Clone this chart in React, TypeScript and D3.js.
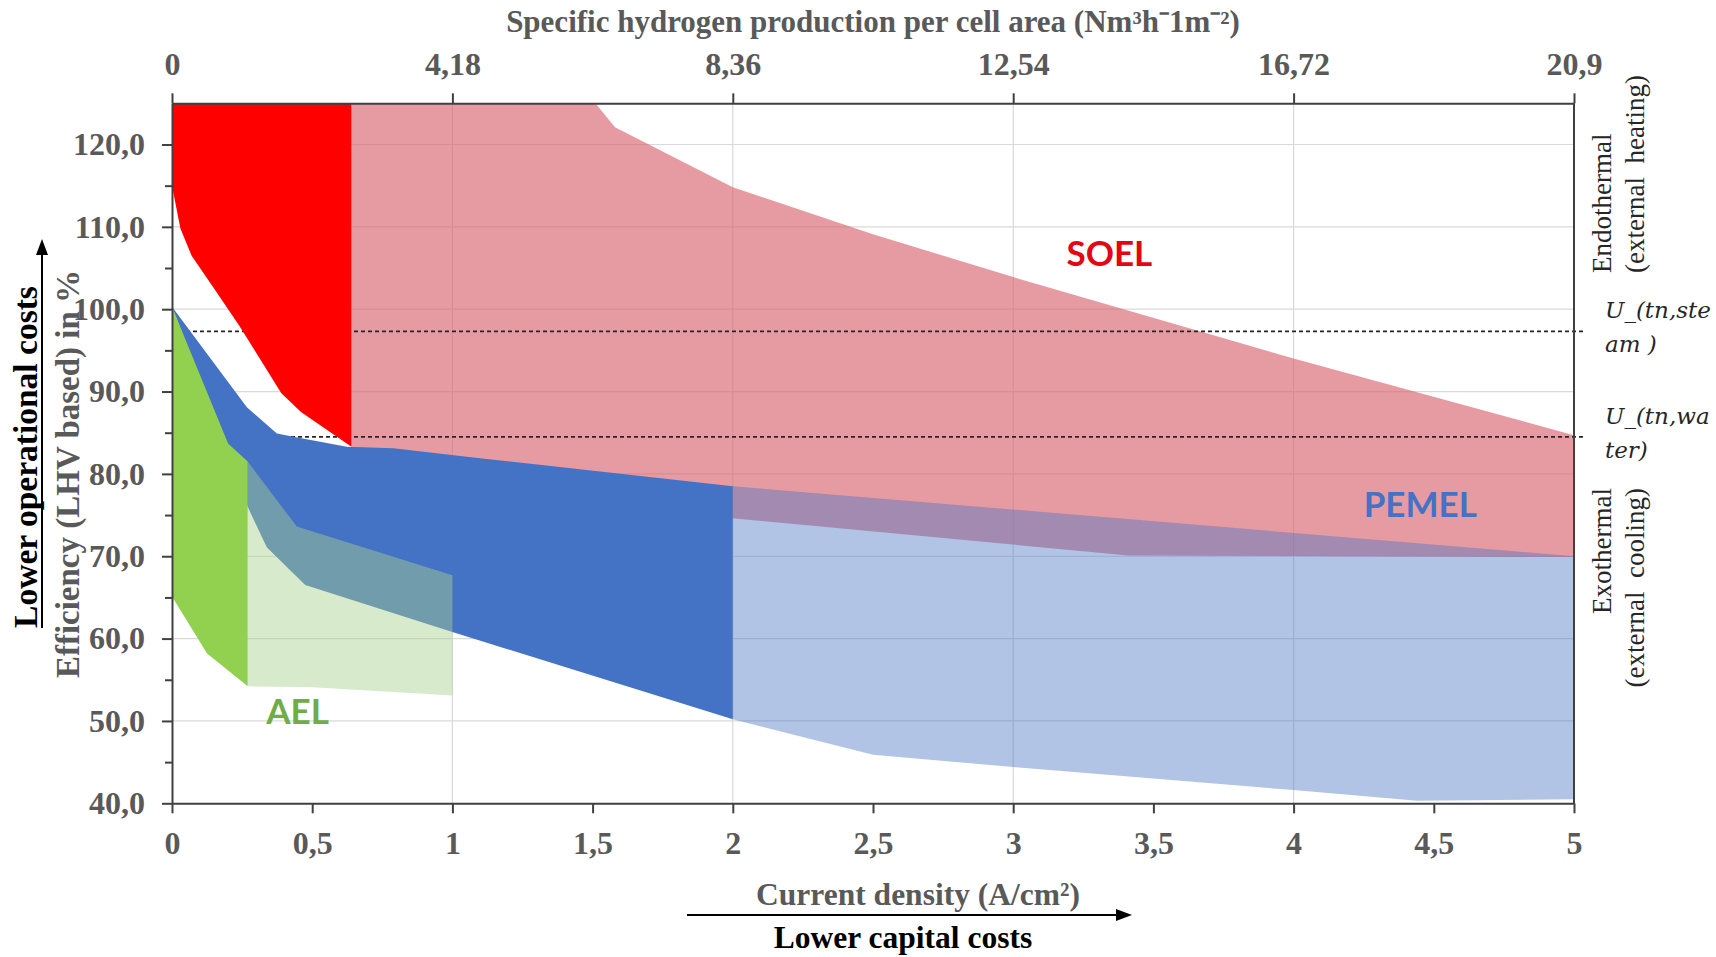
import React, { useEffect, useRef } from 'react';
import * as d3 from 'd3';

const WIDTH = 1716;
const HEIGHT = 957;

// axes
const densityTicks = [0, 0.5, 1, 1.5, 2, 2.5, 3, 3.5, 4, 4.5, 5];
const productionTicks = [0, 4.18, 8.36, 12.54, 16.72, 20.9];
const efficiencyTicks = [40, 50, 60, 70, 80, 90, 100, 110, 120];
const efficiencyMinorTicks = [45, 55, 65, 75, 85, 95, 105, 115];
const gridDensity = [1, 2, 3, 4];

// operating windows, points are [current density A/cm², efficiency %]
const soelNowTop = [[0, 125], [0.64, 125]];
const soelNowBottom = [[0, 115], [0.03, 109.8], [0.07, 106.5], [0.15, 102.5], [0.24, 98], [0.39, 89.8], [0.46, 87.5], [0.64, 83.3]];
const soelFutureTop = [[0.64, 125], [1.51, 125], [1.58, 122.1], [2, 114.8], [2.5, 109.1], [3, 103.9], [4, 94], [5, 84.7]];
const soelFutureBottom = [[0.64, 83.3], [2, 74.6], [3.41, 70.1], [5, 69.9]];
const pemelNowTop = [[0, 100.3], [0.267, 88.1], [0.374, 84.9], [0.433, 84.5], [0.623, 83.3], [0.789, 83.1], [1.098, 81.9], [2, 78.5]];
const pemelNowBottom = [[0, 100.3], [0.27, 76], [0.338, 71.1], [0.475, 66.5], [1, 60.8], [2, 50.2]];
const pemelFutureTop = [[2, 78.5], [5, 70]];
const pemelFutureBottom = [[2, 50.2], [2.5, 45.9], [3, 44.4], [4, 41.6], [4.44, 40.3], [5, 40.5]];
const aelNowTop = [[0, 100.3], [0.2, 83.7], [0.27, 81.5]];
const aelNowBottom = [[0, 65.1], [0.125, 58.2], [0.27, 54.2]];
const aelFutureTop = [[0.27, 81.5], [0.445, 73.6], [1, 67.7]];
const aelFutureBottom = [[0.27, 54.2], [0.5, 54.1], [1, 53.1]];

// thermoneutral voltage lines
const thermoNeutral = [97.3, 84.5];
const thermoNeutralLabels = [['U_(tn,ste', 'am )'], ['U_(tn,wa', 'ter)']];

const technologyNames = ['SOEL', 'PEMEL', 'AEL'];
const technologyColors = ['#E30613', '#4472C4', '#70AD47'];
const technologyLabelAt = [[3.19, 105.3], [4.25, 74.8], [0.336, 49.6]];

const SERIF = '"Liberation Serif", "Times New Roman", serif';
const GREY = '#595959';

export default function App() {
  const ref = useRef<SVGSVGElement>(null);

  useEffect(() => {
    const svg = d3.select(ref.current);
    svg.selectAll('*').remove();

    const x = d3.scaleLinear().domain([0, 5]).range([172, 1574]);
    const y = d3.scaleLinear().domain([40, 125]).range([803.3, 103.3]);
    const xTop = d3.scaleLinear().domain([0, 20.9]).range(x.range());

    // gridlines
    const grid = svg.append('g').attr('stroke', '#D9D9D9').attr('stroke-width', 1.2);
    grid.selectAll('line.h')
      .data(efficiencyTicks.filter(v => v > 40))
      .join('line')
      .attr('x1', x(0)).attr('x2', x(5))
      .attr('y1', d => y(d)).attr('y2', d => y(d));
    grid.selectAll('line.v')
      .data(gridDensity)
      .join('line')
      .attr('x1', d => x(d)).attr('x2', d => x(d))
      .attr('y1', y(40)).attr('y2', y(125));

    const outline = d3.line<number[]>().x(d => x(d[0])).y(d => y(d[1]));
    const region = (top: number[][], bottom: number[][], fill: string, opacity = 1) => {
      svg.append('path')
        .attr('d', outline(top.concat(bottom.slice().reverse())) + 'Z')
        .attr('fill', fill)
        .attr('fill-opacity', opacity);
    };

    region(soelFutureTop, soelFutureBottom, '#D96572', 0.65);

    // dashed thermoneutral lines
    svg.append('g').selectAll('line')
      .data(thermoNeutral)
      .join('line')
      .attr('x1', x(0)).attr('x2', x(5) + 12)
      .attr('y1', d => y(d)).attr('y2', d => y(d))
      .attr('stroke', '#262626')
      .attr('stroke-width', 1.7)
      .attr('stroke-dasharray', '4 3');

    region(soelNowTop, soelNowBottom, '#FF0000');
    region(pemelNowTop, pemelNowBottom, '#4472C4');
    region(pemelFutureTop, pemelFutureBottom, '#4472C4', 0.42);
    region(aelNowTop, aelNowBottom, '#92D050');
    region(aelFutureTop, aelFutureBottom, '#A9D18E', 0.45);

    // axes
    const comma = (d: d3.NumberValue) => String(d).replace('.', ',');
    const styleAxis = (g: d3.Selection<SVGGElement, unknown, null, undefined>) => {
      g.select('.domain').attr('stroke', '#404040').attr('stroke-width', 2);
      g.selectAll('.tick line').attr('stroke', '#404040').attr('stroke-width', 2);
      g.selectAll('.tick text')
        .attr('fill', GREY)
        .style('font-family', SERIF)
        .style('font-weight', 'bold')
        .style('font-size', '32px');
    };

    const bottom = svg.append('g')
      .attr('transform', `translate(0,${y(40)})`)
      .call(d3.axisBottom(x).tickValues(densityTicks).tickSize(10).tickSizeOuter(0).tickFormat(comma));
    styleAxis(bottom);
    bottom.selectAll('.tick text').attr('y', 51).attr('dy', null);

    const top = svg.append('g')
      .attr('transform', `translate(0,${y(125)})`)
      .call(d3.axisTop(xTop).tickValues(productionTicks).tickSize(10).tickPadding(18).tickSizeOuter(0).tickFormat(comma));
    styleAxis(top);

    const left = svg.append('g')
      .attr('transform', `translate(${x(0)},0)`)
      .call(d3.axisLeft(y).tickValues(efficiencyTicks).tickSize(10).tickPadding(17).tickSizeOuter(0)
        .tickFormat(d => (d as number).toFixed(1).replace('.', ',')));
    styleAxis(left);

    const minor = svg.append('g')
      .attr('transform', `translate(${x(0)},0)`)
      .call(d3.axisLeft(y).tickValues(efficiencyMinorTicks).tickSize(7).tickFormat(() => ''));
    minor.select('.domain').remove();
    minor.selectAll('.tick line').attr('stroke', '#404040').attr('stroke-width', 2);

    svg.append('line')
      .attr('x1', x(5)).attr('x2', x(5))
      .attr('y1', y(40)).attr('y2', y(125))
      .attr('stroke', '#404040').attr('stroke-width', 2);

    // axis titles
    const text = (content: string, tx: number, ty: number, opts: { size: number; fill: string; anchor?: string; weight?: string; rotate?: boolean; family?: string; italic?: boolean }) =>
      svg.append('text')
        .attr('transform', `translate(${tx},${ty})${opts.rotate ? ' rotate(-90)' : ''}`)
        .attr('text-anchor', opts.anchor || 'middle')
        .attr('fill', opts.fill)
        .style('font-family', opts.family || SERIF)
        .style('font-weight', opts.weight || 'bold')
        .style('font-style', opts.italic ? 'italic' : 'normal')
        .style('font-size', `${opts.size}px`)
        .style('white-space', 'pre')
        .text(content);

    text('Specific hydrogen production per cell area (Nm³h⁻1m⁻²)', 873, 31.7, { size: 31, fill: GREY });
    text('Current density (A/cm²)', 918, 905, { size: 31.5, fill: GREY });
    text('Lower capital costs', 903, 948, { size: 31.5, fill: '#000' });
    text('Lower operational costs', 37, 457, { size: 33.5, fill: '#000', rotate: true });
    text('Efficiency (LHV based) in %', 79, 474, { size: 33, fill: GREY, rotate: true });

    // cost arrows
    svg.append('line').attr('x1', 687).attr('x2', 1120).attr('y1', 915).attr('y2', 915)
      .attr('stroke', '#000').attr('stroke-width', 2);
    svg.append('path').attr('d', 'M1132,915 L1116,909 L1116,921 Z').attr('fill', '#000');
    svg.append('line').attr('x1', 42).attr('x2', 42).attr('y1', 628).attr('y2', 252)
      .attr('stroke', '#000').attr('stroke-width', 2);
    svg.append('path').attr('d', 'M42,239 L36,255 L48,255 Z').attr('fill', '#000');

    // right side annotations
    const dark = '#262626';
    text('Endothermal', 1611, 273, { size: 27, fill: dark, weight: 'normal', anchor: 'start', rotate: true });
    text('(external  heating)', 1644, 273, { size: 27, fill: dark, weight: 'normal', anchor: 'start', rotate: true });
    text('Exothermal', 1611, 488, { size: 27, fill: dark, weight: 'normal', anchor: 'end', rotate: true });
    text('(external  cooling)', 1644, 488, { size: 27, fill: dark, weight: 'normal', anchor: 'end', rotate: true });

    thermoNeutral.forEach((v, i) => {
      const base = y(v);
      text(thermoNeutralLabels[i][0], 1605, base - 13, { size: 23, fill: dark, weight: 'normal', anchor: 'start', family: '"DejaVu Serif", serif', italic: true });
      text(thermoNeutralLabels[i][1], 1605, base + 21, { size: 23, fill: dark, weight: 'normal', anchor: 'start', family: '"DejaVu Serif", serif', italic: true });
    });

    // technology labels
    technologyNames.forEach((name, i) => {
      text(name, x(technologyLabelAt[i][0]), y(technologyLabelAt[i][1]), {
        size: 35, fill: technologyColors[i], anchor: 'start', family: 'Lato, "Open Sans", sans-serif'
      });
    });
  }, []);

  return (
    <svg
      ref={ref}
      width={WIDTH}
      height={HEIGHT}
      style={{ position: 'absolute', left: 0, top: 0, background: '#fff' }}
    />
  );
}
